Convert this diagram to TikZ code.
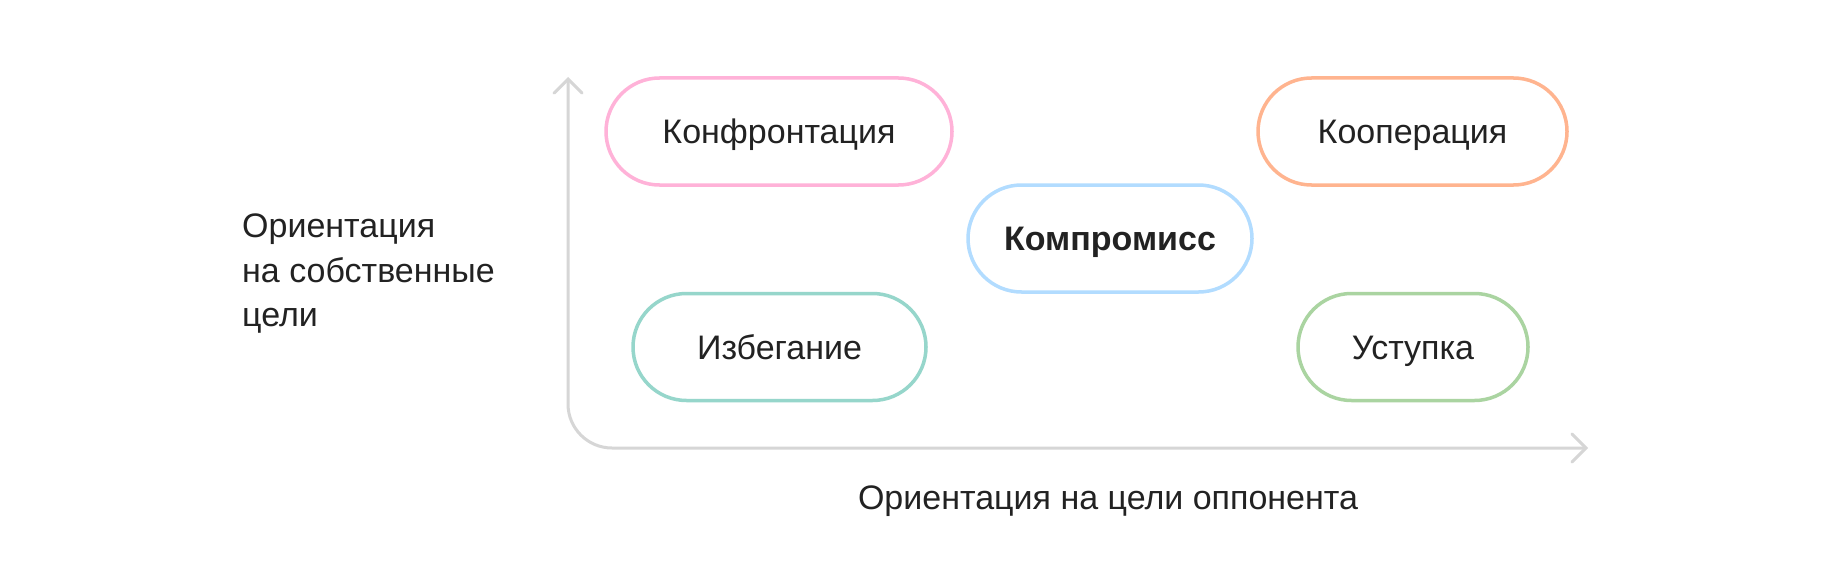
\documentclass[tikz,border=0pt]{standalone}
\usepackage{fontspec}
\setmainfont{Liberation Sans}
\usetikzlibrary{arrows.meta,shapes.misc}
\definecolor{axisgray}{HTML}{D6D6D6}
\definecolor{txt}{HTML}{222222}
\definecolor{cpink}{HTML}{FFB2D8}
\definecolor{corange}{HTML}{FFB48F}
\definecolor{cblue}{HTML}{B2DCFF}
\definecolor{cteal}{HTML}{96D6CB}
\definecolor{cgreen}{HTML}{AAD4A1}
\tikzset{
  pill/.style={rounded rectangle, draw, line width=3.5pt, minimum height=107pt,
    inner sep=0pt, text height=24pt, text depth=0pt, text=txt,
    font=\fontsize{34}{40}\selectfont},
  axisline/.style={draw=axisgray, line width=3pt, line cap=round, line join=round,
    rounded corners=44pt},
  lbl/.style={text=txt, inner sep=0pt, font=\fontsize{34}{44.5}\selectfont}
}
\begin{document}
\begin{tikzpicture}[x=1pt,y=-1pt]
\useasboundingbox[fill=white] (0,0) rectangle (1827,567);
% axes
\coordinate (ytop) at (568,77);
\coordinate (xend) at (1588,448);
\draw[axisline, {Straight Barb[length=14pt,width=28pt,line cap=round]}-{Straight Barb[length=14pt,width=28pt,line cap=round]}] (ytop) |- (xend);
% boxes
\node[pill, draw=cpink, minimum width=346pt] (konf) at (779,131.5) {Конфронтация};
\node[pill, draw=corange, minimum width=309pt] (koop) at (1412.5,131.5) {Кооперация};
\node[pill, draw=cblue, minimum width=284pt, font=\fontsize{34}{40}\selectfont\bfseries] (komp) at (1110,238.5) {Компромисс};
\node[pill, draw=cteal, minimum width=293pt] (izb) at (779.5,347) {Избегание};
\node[pill, draw=cgreen, minimum width=230pt] (ust) at (1413,347) {Уступка};
% axis labels
\node[lbl, align=left, anchor=north west] (ylab) at (242,214) {Ориентация\\на собственные\\цели};
\node[lbl, anchor=base] (xlab) at (1108,509) {Ориентация на цели оппонента};
\end{tikzpicture}
\end{document}
